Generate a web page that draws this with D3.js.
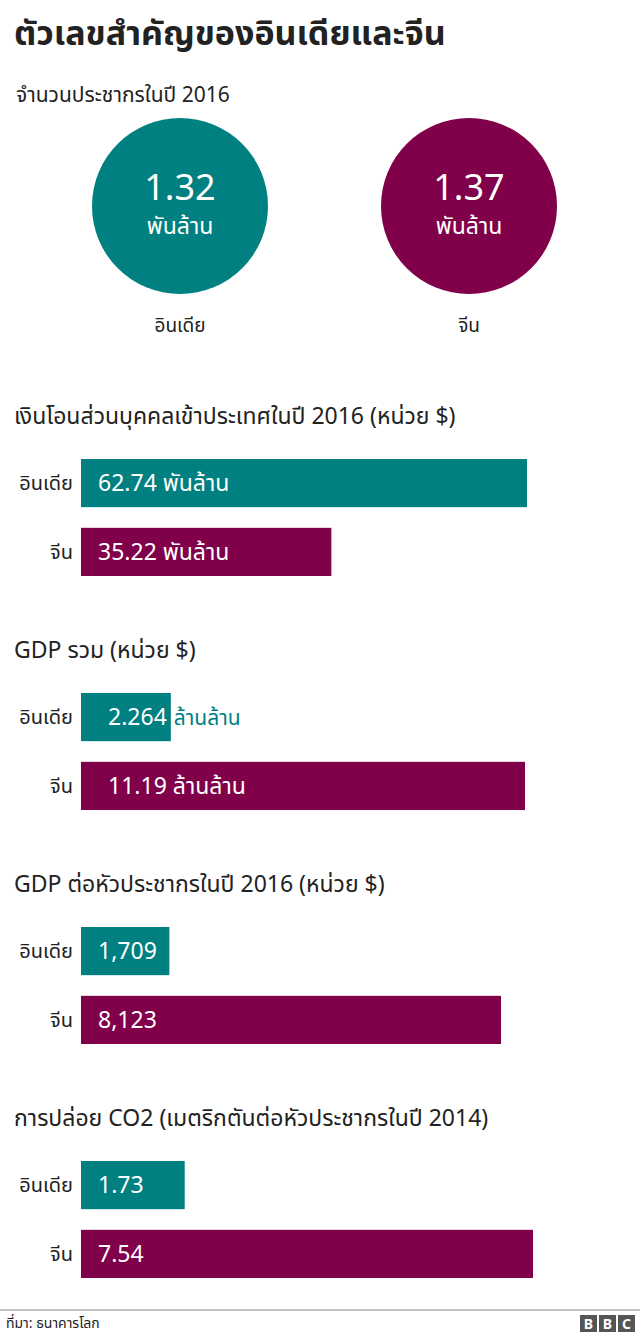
<!DOCTYPE html>
<html><head><meta charset="utf-8">
<script src="https://cdn.jsdelivr.net/npm/d3@7.9.0/dist/d3.min.js"></script>
<style>body{margin:0;background:#fff}text{font-family:"Noto Sans","Noto Sans Thai",sans-serif}</style>
</head><body><svg id="c" width="640" height="1334"></svg>
<script>
const teal = "#008080", maroon = "#80004a";
const countries = ["อินเดีย", "จีน"];
const population = [1.32, 1.37];
const sectionTitles = [
  "เงินโอนส่วนบุคคลเข้าประเทศในปี 2016 (หน่วย $)",
  "GDP รวม (หน่วย $)",
  "GDP ต่อหัวประชากรในปี 2016 (หน่วย $)",
  "การปล่อย CO2 (เมตริกตันต่อหัวประชากรในปี 2014)"
];
const remittances = [62.74, 35.22];
const gdpTotal = [2.264, 11.19];
const gdpPerCapita = [1709, 8123];
const co2 = [1.73, 7.54];
const units = ["พันล้าน", "ล้านล้าน", "", ""];
const labels = [["62.74", "35.22"], ["2.264", "11.19"], ["1,709", "8,123"], ["1.73", "7.54"]];
const maxWidths = [446, 444, 420, 452];

const svg = d3.select("#c");
svg.append("text").attr("x", 14).attr("y", 45).attr("font-size", 34).attr("font-weight", "bold").attr("fill", "#222").text("ตัวเลขสำคัญของอินเดียและจีน");
svg.append("text").attr("x", 16).attr("y", 102).attr("font-size", 21).attr("fill", "#222").text("จำนวนประชากรในปี 2016");

const cx = d3.scalePoint().domain(countries).range([180, 469]);
countries.forEach((c, i) => {
  const g = svg.append("g").attr("transform", `translate(${cx(c)},206)`);
  g.append("circle").attr("r", 88).attr("fill", i ? maroon : teal);
  g.append("text").attr("text-anchor", "middle").attr("y", -6).attr("font-size", 36).attr("fill", "#fff").text(population[i].toFixed(2));
  g.append("text").attr("text-anchor", "middle").attr("y", 28).attr("font-size", 23).attr("fill", "#fff").text("พันล้าน");
  g.append("text").attr("text-anchor", "middle").attr("y", 126).attr("font-size", 19).attr("fill", "#222").text(c);
});

const sections = [remittances, gdpTotal, gdpPerCapita, co2];
sections.forEach((vals, s) => {
  const top = 414 + s * 234;
  svg.append("text").attr("x", 14).attr("y", top + 10).attr("font-size", 23).attr("fill", "#222").text(sectionTitles[s]);
  const x = d3.scaleLinear().domain([0, d3.max(vals)]).range([0, maxWidths[s]]);
  const y = d3.scaleBand().domain(countries).range([top + 45, top + 162]).paddingInner(0.3);
  countries.forEach((c, i) => {
    const by = y(c), h = y.bandwidth(), w = x(vals[i]);
    svg.append("rect").attr("x", 81).attr("y", by).attr("width", w).attr("height", h).attr("fill", i ? maroon : teal);
    svg.append("text").attr("x", 73).attr("y", by + h / 2 + 7).attr("text-anchor", "end").attr("font-size", 20).attr("fill", "#222").text(c);
    const inside = w > 150;
    const t = svg.append("text").attr("x", s === 1 ? 108 : 98).attr("y", by + h / 2 + 8).attr("font-size", 23).attr("fill", "#fff");
    if (inside || !units[s]) {
      t.text(labels[s][i] + (units[s] ? " " + units[s] : ""));
    } else {
      t.text(labels[s][i]);
      svg.append("text").attr("x", 81 + w + 3).attr("y", by + h / 2 + 8).attr("font-size", 21).attr("fill", teal).text(units[s]);
    }
  });
});

svg.append("line").attr("x1", 0).attr("x2", 640).attr("y1", 1310).attr("y2", 1310).attr("stroke", "#888");
svg.append("text").attr("x", 6).attr("y", 1328).attr("font-size", 14).attr("fill", "#222").text("ที่มา: ธนาคารโลก");
["B", "B", "C"].forEach((l, i) => {
  svg.append("rect").attr("x", 580 + i * 19).attr("y", 1315).attr("width", 17).attr("height", 17).attr("fill", "#555");
  svg.append("text").attr("x", 588.5 + i * 19).attr("y", 1329).attr("text-anchor", "middle").attr("font-size", 14).attr("font-weight", "bold").attr("fill", "#fff").text(l);
});
</script></body></html>
